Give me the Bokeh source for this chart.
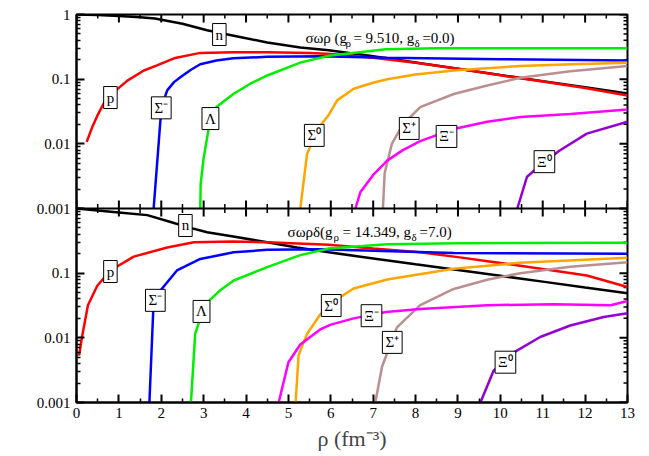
import math
from bokeh.plotting import figure
from bokeh.models import Range1d, FixedTicker, Label, Span
from bokeh.embed import file_html
from bokeh.resources import INLINE

FONT = "Liberation Serif"
SHIFT = 1e-3  # the lower panel is drawn three decades below the upper one

# ---------------- upper panel: sigma-omega-rho (g_rho = 9.510, g_delta = 0.0) ----------------
n_top_x = [0, 0.5, 1, 1.5, 1.85, 2.5, 3.08, 3.71, 4.5, 5.28, 5.95, 7, 8, 9, 10, 11, 12, 13]
n_top_y = [1.0, 0.98, 0.95, 0.91, 0.87, 0.72, 0.57, 0.47, 0.37, 0.31, 0.28, 0.226, 0.181, 0.145, 0.116, 0.093, 0.075, 0.06]
p_top_x = [0.24, 0.37, 0.49, 0.64, 0.88, 1.2, 1.59, 1.9, 2.3, 2.92, 3.7, 4.5, 5.5, 6, 7, 8, 9, 10, 11, 12, 13]
p_top_y = [0.0107, 0.018, 0.027, 0.042, 0.063, 0.095, 0.136, 0.163, 0.21, 0.255, 0.26, 0.26, 0.255, 0.245, 0.215, 0.18, 0.145, 0.115, 0.092, 0.073, 0.056]
sm_top_x = [1.82, 1.98, 2.05, 2.14, 2.3, 2.45, 2.7, 2.92, 3.3, 3.7, 4.5, 5.75, 7.33, 10, 13]
sm_top_y = [0.001, 0.023, 0.045, 0.067, 0.09, 0.107, 0.14, 0.17, 0.195, 0.21, 0.222, 0.226, 0.214, 0.203, 0.195]
la_top_x = [2.92, 2.93, 3.0, 3.11, 3.3, 3.7, 4.1, 4.5, 5.28, 5.95, 7.3, 8.5, 13]
la_top_y = [0.001, 0.0024, 0.006, 0.016, 0.037, 0.059, 0.085, 0.114, 0.18, 0.23, 0.29, 0.30, 0.30]
s0_top_x = [5.28, 5.44, 5.6, 5.75, 5.95, 6.15, 6.54, 7.0, 7.33, 8.0, 8.9, 10.47, 11.7, 13]
s0_top_y = [0.001, 0.007, 0.012, 0.019, 0.028, 0.047, 0.071, 0.088, 0.10, 0.118, 0.136, 0.16, 0.17, 0.18]
sp_top_x = [7.23, 7.27, 7.44, 7.7, 8.11, 8.9, 9.69, 10.47, 11.65, 13]
sp_top_y = [0.001, 0.0035, 0.01, 0.02, 0.037, 0.059, 0.08, 0.105, 0.133, 0.16]
xm_top_x = [6.58, 6.7, 7.0, 7.33, 7.7, 8.11, 8.9, 9.69, 10.47, 11.65, 13]
xm_top_y = [0.001, 0.0018, 0.0033, 0.0055, 0.008, 0.011, 0.017, 0.022, 0.026, 0.029, 0.034]
x0_top_x = [10.4, 10.63, 11.0, 11.4, 12.04, 13]
x0_top_y = [0.001, 0.0031, 0.005, 0.0079, 0.0144, 0.022]

# ---------------- lower panel: sigma-omega-rho-delta (g_rho = 14.349, g_delta = 7.0) ----------------
n_bot_x = [0, 0.5, 1, 1.67, 2.2, 2.6, 3.08, 3.7, 4.5, 5.2, 5.95, 7, 8, 9, 10, 11, 12, 13]
n_bot_y = [1.0, 0.93, 0.87, 0.79, 0.625, 0.52, 0.43, 0.37, 0.30, 0.25, 0.21, 0.169, 0.137, 0.112, 0.091, 0.074, 0.06, 0.049]
p_bot_x = [0.06, 0.13, 0.27, 0.49, 0.8, 1.35, 2.14, 2.77, 3.7, 4.5, 5.95, 7, 8.11, 9, 10.47, 12.04, 13]
p_bot_y = [0.0053, 0.0103, 0.032, 0.064, 0.11, 0.18, 0.25, 0.3, 0.31, 0.30, 0.275, 0.24, 0.21, 0.177, 0.13, 0.092, 0.061]
sm_bot_x = [1.72, 1.81, 1.98, 2.37, 2.92, 3.71, 4.5, 5.75, 8.9, 13]
sm_bot_y = [0.001, 0.026, 0.054, 0.11, 0.166, 0.21, 0.23, 0.235, 0.205, 0.2]
la_bot_x = [2.7, 2.8, 2.92, 3.08, 3.4, 3.71, 4.5, 5.28, 5.95, 7.33, 9, 13]
la_bot_y = [0.001, 0.0115, 0.02, 0.035, 0.055, 0.077, 0.124, 0.19, 0.24, 0.28, 0.29, 0.295]
s0_bot_x = [5.17, 5.24, 5.44, 5.75, 6.23, 6.54, 7.33, 8.9, 10.47, 13]
s0_bot_y = [0.001, 0.0054, 0.0115, 0.023, 0.043, 0.058, 0.08, 0.117, 0.145, 0.173]
xm_bot_x = [4.77, 5.0, 5.28, 5.75, 6.0, 6.54, 7.3, 8.11, 9.69, 11.26, 12.6, 13]
xm_bot_y = [0.001, 0.0042, 0.0079, 0.0135, 0.016, 0.02, 0.025, 0.028, 0.032, 0.033, 0.032, 0.037]
sp_bot_x = [7.05, 7.21, 7.56, 8.11, 8.9, 9.69, 10.47, 11.65, 13]
sp_bot_y = [0.001, 0.0036, 0.0145, 0.032, 0.057, 0.079, 0.1, 0.126, 0.148]
x0_bot_x = [9.53, 9.84, 10.31, 10.94, 11.65, 12.44, 13]
x0_bot_y = [0.001, 0.0031, 0.0059, 0.0103, 0.0155, 0.021, 0.024]

colors = {"n": "black", "p": "#ff0000", "sm": "#0000ff", "la": "#00ee00", "s0": "#ffa500",
          "sp": "#bc8f8f", "xm": "#ff00ff", "x0": "#9400d3"}

top_series = [("n", n_top_x, n_top_y), ("p", p_top_x, p_top_y), ("sm", sm_top_x, sm_top_y),
              ("la", la_top_x, la_top_y), ("s0", s0_top_x, s0_top_y), ("sp", sp_top_x, sp_top_y),
              ("xm", xm_top_x, xm_top_y), ("x0", x0_top_x, x0_top_y)]
bot_series = [("n", n_bot_x, n_bot_y), ("p", p_bot_x, p_bot_y), ("sm", sm_bot_x, sm_bot_y),
              ("la", la_bot_x, la_bot_y), ("s0", s0_bot_x, s0_bot_y), ("sp", sp_bot_x, sp_bot_y),
              ("xm", xm_bot_x, xm_bot_y), ("x0", x0_bot_x, x0_bot_y)]

# boxed curve labels: (text, x, y)
top_labels = [("n", 3.37, 0.49), ("p", 0.80, 0.052), ("Σ⁻", 2.0, 0.036), ("Λ", 3.16, 0.0246),
              ("Σ⁰", 5.61, 0.0135), ("Σ⁺", 7.85, 0.0173), ("Ξ⁻", 8.73, 0.013), ("Ξ⁰", 11.04, 0.0053)]
bot_labels = [("n", 2.57, 0.546), ("p", 0.80, 0.106), ("Σ⁻", 1.86, 0.038), ("Λ", 2.95, 0.0256),
              ("Σ⁰", 6.01, 0.0316), ("Ξ⁻", 6.96, 0.022), ("Σ⁺", 7.45, 0.0085), ("Ξ⁰", 10.12, 0.0042)]

x_major = list(range(0, 14))
x_minor = [i + 0.5 for i in range(13)]
y_major = [1e-6, 1e-5, 1e-4, 1e-3, 1e-2, 1e-1, 1.0]
y_minor = [m * d for d in [1e-6, 1e-5, 1e-4, 1e-3, 1e-2, 1e-1] for m in range(2, 10)]
y_tick_labels = {1e-6: "0.001", 1e-5: "0.01", 1e-4: "0.1", 1e-3: "0.001", 1e-2: "0.01", 1e-1: "0.1", 1.0: "1"}
X_MIN, X_MAX = 0, 13
Y_MIN, Y_MAX = 1e-6, 1.0

p = figure(frame_width=551, frame_height=388, min_border_left=76, min_border_top=14,
           min_border_right=14, min_border_bottom=40, y_axis_type="log",
           x_range=Range1d(X_MIN, X_MAX), y_range=Range1d(Y_MIN, Y_MAX),
           output_backend="svg", toolbar_location=None)
p.xgrid.visible = False
p.ygrid.visible = False
p.outline_line_color = "black"
p.outline_line_width = 2
p.background_fill_color = "white"
p.border_fill_color = "white"


def style_axis(ax):
    ax.axis_line_width = 2
    ax.major_tick_in = 8
    ax.major_tick_out = 0
    ax.minor_tick_in = 4
    ax.minor_tick_out = 0
    ax.major_tick_line_width = 2
    ax.minor_tick_line_width = 1.5
    ax.major_label_text_font = FONT
    ax.major_label_text_color = "black"
    ax.major_label_text_font_size = "15px"


xa = p.xaxis[0]
xa.ticker = FixedTicker(ticks=x_major, minor_ticks=x_minor)
style_axis(xa)
xa.major_label_standoff = 5
xa.axis_label = "ρ (fm⁻³)"
xa.axis_label_text_font = FONT
xa.axis_label_text_font_size = "22px"
xa.axis_label_text_font_style = "normal"
xa.axis_label_standoff = 5

ya = p.yaxis[0]
ya.ticker = FixedTicker(ticks=y_major, minor_ticks=y_minor)
style_axis(ya)
ya.major_label_overrides = y_tick_labels
ya.major_label_standoff = 6


def edge_ticks(xs, ys, angle, size, width):
    # dash markers centred on a frame edge; the frame clips the outer half
    p.scatter(x=xs, y=ys, marker="dash", angle=angle, size=size,
              line_color="black", line_width=width)


# mirrored ticks on the top and right edges
edge_ticks(x_major, [Y_MAX] * len(x_major), math.pi / 2, 16, 2)
edge_ticks(x_minor, [Y_MAX] * len(x_minor), math.pi / 2, 8, 1.5)
edge_ticks([X_MAX] * len(y_major), y_major, 0, 16, 2)
edge_ticks([X_MAX] * len(y_minor), y_minor, 0, 8, 1.5)

# boundary between the two panels, with ticks pointing both ways
p.add_layout(Span(location=SHIFT, dimension="width", line_color="black", line_width=2))
edge_ticks(x_major, [SHIFT] * len(x_major), math.pi / 2, 16, 2)
edge_ticks(x_minor, [SHIFT] * len(x_minor), math.pi / 2, 9, 1.5)

for key, xs, ys in top_series:
    p.line(xs, ys, line_color=colors[key], line_width=2.5)
for key, xs, ys in bot_series:
    p.line(xs, [v * SHIFT for v in ys], line_color=colors[key], line_width=2.5)


def boxed(text, x, y):
    p.add_layout(Label(x=x, y=y, text=text, text_align="center", text_baseline="middle",
                       text_font=FONT, text_font_size="15px", text_color="black",
                       background_fill_color="white", border_line_color="black",
                       border_line_width=1, padding=3))


for t, x, y in top_labels:
    boxed(t, x, y)
for t, x, y in bot_labels:
    boxed(t, x, y * SHIFT)


def title(pieces, x, y):
    for text, dx, dy, size in pieces:
        p.add_layout(Label(x=x, y=y, x_offset=dx, y_offset=dy, text=text,
                           text_font=FONT, text_font_size=size, text_color="black",
                           text_baseline="alphabetic", text_align="left"))


title([("σωρ (g", 0, 0, "15px"), ("ρ", 40, -5, "11px"), ("= 9.510, g", 48, 0, "15px"),
       ("δ", 109, -5, "11px"), ("=0.0)", 117, 0, "15px")], 5.40, 0.426)
title([("σωρδ(g", 0, 0, "15px"), ("ρ", 46, -5, "11px"), ("= 14.349, g", 55, 0, "15px"),
       ("δ", 124, -5, "11px"), ("=7.0)", 132, 0, "15px")], 4.98, 0.426 * SHIFT)

p.add_layout(Label(x=0, y=0.00262, x_offset=-53, text="Particle fraction", angle=math.pi / 2,
                   text_align="center", text_baseline="middle", text_font=FONT,
                   text_font_size="22px", text_color="black"))

open("out.html", "w").write(file_html(p, INLINE))
